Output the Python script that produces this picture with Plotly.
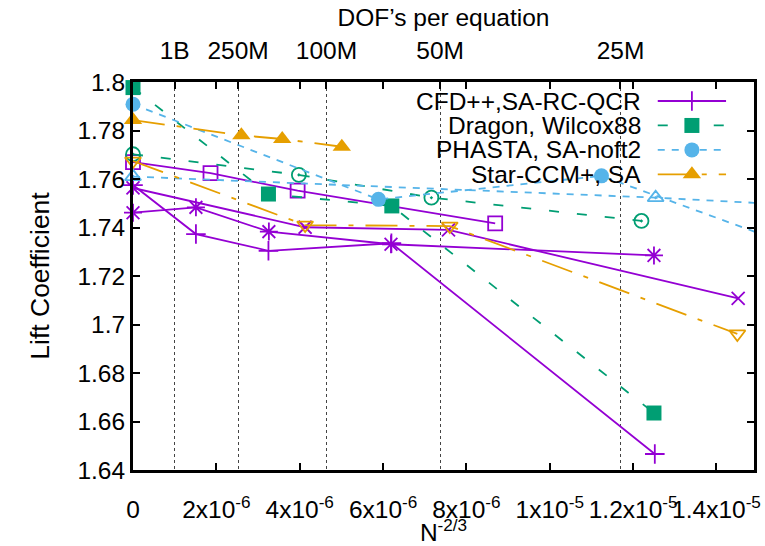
import plotly.graph_objects as go

# ---------------- data ----------------
# CFD++, SA-RC-QCR  (purple, solid) -- several grid families
cfd_plus_x = [0, 1.51e-6, 3.25e-6, 6.20e-6, 12.52e-6]
cfd_plus_y = [1.7575, 1.7373, 1.7304, 1.7335, 1.6466]
cfd_star_x = [0, 1.51e-6, 3.26e-6, 6.19e-6, 12.50e-6]
cfd_star_y = [1.7461, 1.7483, 1.7383, 1.7331, 1.7285]
cfd_cross_x = [0, 4.13e-6, 7.57e-6, 14.52e-6]
cfd_cross_y = [1.7563, 1.7401, 1.7390, 1.7108]
cfd_sq_x = [0, 1.86e-6, 3.95e-6, 8.69e-6]
cfd_sq_y = [1.7670, 1.7624, 1.7552, 1.7417]

# Dragon, Wilcox88 (green, dashed)
drg_fill_x = [0, 3.25e-6, 6.21e-6, 12.50e-6]
drg_fill_y = [1.7977, 1.7538, 1.7489, 1.6635]
drg_circ_x = [0, 3.98e-6, 7.16e-6, 12.20e-6]
drg_circ_y = [1.7702, 1.7617, 1.7523, 1.7427]

# PHASTA, SA-noft2 (light blue, short dashes)
pha_fill_x = [0, 5.89e-6, 11.24e-6, 17.0e-6]
pha_fill_y = [1.7908, 1.7516, 1.7613, 1.7252]
pha_tri_x = [0, 12.54e-6, 17.0e-6]
pha_tri_y = [1.7610, 1.7523, 1.7483]

# Star-CCM+, SA (orange, dash-dot)
star_fill_x = [0, 2.60e-6, 3.58e-6, 5.01e-6]
star_fill_y = [1.7843, 1.7780, 1.7765, 1.7733]
star_inv_x = [0, 4.13e-6, 7.60e-6, 14.50e-6]
star_inv_y = [1.7674, 1.7410, 1.7406, 1.6961]

legend_names = ["CFD++,SA-RC-QCR", "Dragon, Wilcox88", "PHASTA, SA-noft2", "Star-CCM+, SA"]

x_tickvals = [0, 2e-6, 4e-6, 6e-6, 8e-6, 1e-5, 1.2e-5, 1.4e-5]
x_ticktext = ["0", "2x10<sup>-6</sup>", "4x10<sup>-6</sup>", "6x10<sup>-6</sup>",
              "8x10<sup>-6</sup>", "1x10<sup>-5</sup>", "1.2x10<sup>-5</sup>",
              "1.4x10<sup>-5</sup>"]
y_tickvals = [1.64, 1.66, 1.68, 1.70, 1.72, 1.74, 1.76, 1.78, 1.80]
y_ticktext = ["1.64", "1.66", "1.68", "1.7", "1.72", "1.74", "1.76", "1.78", "1.8"]
dof_counts = [1e9, 250e6, 100e6, 50e6, 25e6]
dof_labels = ["1B", "250M", "100M", "50M", "25M"]

# ---------------- style ----------------
PURPLE = "#9400d3"
GREEN = "#009e73"
BLUE = "#56b4e9"
ORANGE = "#e69f00"
FONT = "Liberation Sans, Arial, sans-serif"
FS = 24.5
XMAX = 1.49e-5
YR = [1.64, 1.80]

DASH = {
    "solid": "solid",
    "green": "10px,18px",
    "blue": "7px,7px",
    "orange": "32px,12px,5px,12px",
}

fig = go.Figure()


def add_series(xs, ys, color, dash, symbol, size, filled=False, lw=1.8):
    # the connecting line (clipped to the plot area)
    fig.add_trace(go.Scatter(x=xs, y=ys, mode="lines",
                             line=dict(color=color, width=lw, dash=dash),
                             showlegend=False, hoverinfo="skip"))
    # markers (not clipped, only for points inside the x range)
    mx = [x for x in xs if x <= XMAX]
    my = [y for x, y in zip(xs, ys) if x <= XMAX]
    mk = dict(symbol=symbol, size=size, color=color,
              line=dict(color=color, width=0 if filled else 1.8))
    fig.add_trace(go.Scatter(x=mx, y=my, mode="markers", marker=mk,
                             cliponaxis=False, showlegend=False, hoverinfo="skip"))


# CFD++
add_series(cfd_plus_x, cfd_plus_y, PURPLE, DASH["solid"], "cross-thin-open", 14)
add_series(cfd_star_x, cfd_star_y, PURPLE, DASH["solid"], "asterisk-open", 15)
add_series(cfd_cross_x, cfd_cross_y, PURPLE, DASH["solid"], "x-thin-open", 13)
add_series(cfd_sq_x, cfd_sq_y, PURPLE, DASH["solid"], "square-open", 14)
# Dragon
add_series(drg_fill_x, drg_fill_y, GREEN, DASH["green"], "square", 15, filled=True)
add_series(drg_circ_x, drg_circ_y, GREEN, DASH["green"], "circle-open-dot", 14)
# PHASTA
add_series(pha_fill_x, pha_fill_y, BLUE, DASH["blue"], "circle", 15, filled=True)
add_series(pha_tri_x, pha_tri_y, BLUE, DASH["blue"], "triangle-up-open-dot", 14)
# Star-CCM+
add_series(star_fill_x, star_fill_y, ORANGE, DASH["orange"], "triangle-up", 16, filled=True)
add_series(star_inv_x, star_inv_y, ORANGE, DASH["orange"], "triangle-down-open", 14)

# invisible trace to activate the top (DOF) axis
fig.add_trace(go.Scatter(x=[0], y=[YR[0]], xaxis="x2", mode="lines",
                         line=dict(width=0), showlegend=False, hoverinfo="skip"))

# ---------------- key (gnuplot style: text left, sample right) ----------------
key_rows = [0.951, 0.888, 0.825, 0.762]       # fraction of plot height
key_line = [0.845, 0.955]                      # fraction of plot width
key_mark = 0.9
key_text_x = 0.821
key_styles = [
    (PURPLE, DASH["solid"], "cross-thin-open", 14, False),
    (GREEN, DASH["green"], "square", 15, True),
    (BLUE, DASH["blue"], "circle", 15, True),
    (ORANGE, DASH["orange"], "triangle-up", 16, True),
]
for name, yk, (c, d, s, sz, filled) in zip(legend_names, key_rows, key_styles):
    fig.add_trace(go.Scatter(x=key_line, y=[yk, yk], xaxis="x3", yaxis="y3",
                             mode="lines", line=dict(color=c, width=1.8, dash=d),
                             showlegend=False, hoverinfo="skip"))
    fig.add_trace(go.Scatter(x=[key_mark], y=[yk], xaxis="x3", yaxis="y3",
                             mode="markers", cliponaxis=False,
                             marker=dict(symbol=s, size=sz, color=c,
                                         line=dict(color=c, width=0 if filled else 1.8)),
                             showlegend=False, hoverinfo="skip"))
    fig.add_annotation(x=key_text_x, y=yk, xref="paper", yref="paper",
                       text=name, showarrow=False, xanchor="right", yanchor="middle",
                       font=dict(family=FONT, size=FS, color="black"))

title_font = dict(family=FONT, size=FS, color="black")

# ---------------- layout ----------------
fig.update_layout(
    template="none",
    width=765, height=546,
    margin=dict(l=133, r=11, t=82, b=76, autoexpand=False),
    paper_bgcolor="white", plot_bgcolor="white",
    font=dict(family=FONT, size=FS, color="black"),
    showlegend=False,
    xaxis=dict(range=[0, XMAX], tickvals=x_tickvals, ticktext=x_ticktext,
               tickangle=0, ticklabelstandoff=16, automargin=False,
               ticks="inside", ticklen=7, tickwidth=2, tickcolor="black",
               showline=True, linewidth=3, linecolor="black", mirror="ticks",
               showgrid=False, zeroline=False,
               title=dict(text="N<sup>-2/3</sup>", standoff=2, font=title_font)),
    xaxis2=dict(range=[0, XMAX], overlaying="x", side="top",
                tickvals=[n ** (-2.0 / 3.0) for n in dof_counts], ticktext=dof_labels,
                tickangle=0, ticklabelstandoff=17, automargin=False,
                ticks="inside", ticklen=7, tickwidth=2, tickcolor="black",
                showline=False, showgrid=True, gridcolor="#444444",
                griddash="dot", gridwidth=1, zeroline=False,
                title=dict(text="DOF\u2019s per equation", standoff=3, font=title_font)),
    yaxis=dict(range=YR, tickvals=y_tickvals, ticktext=y_ticktext, automargin=False,
               ticks="inside", ticklen=7, tickwidth=2, tickcolor="black",
               showline=True, linewidth=3, linecolor="black", mirror="ticks",
               showgrid=False, zeroline=False,
               title=dict(text="Lift Coefficient", standoff=21,
                          font=dict(family=FONT, size=26.5, color="black"))),
    xaxis3=dict(range=[0, 1], overlaying="x", visible=False),
    yaxis3=dict(range=[0, 1], overlaying="y", visible=False),
)

fig.write_html("out.html", config={"displayModeBar": False},
               post_script="document.body.style.margin='0';")
